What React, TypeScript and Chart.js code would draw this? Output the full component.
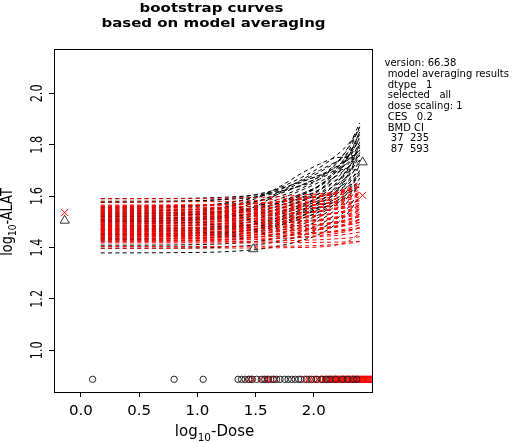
import { useEffect, useRef } from "react";
import { Chart, registerables } from "chart.js";
Chart.register(...registerables);

// ---------- data ----------
const titleLines = ["bootstrap curves", "based on model averaging"];
const infoLines = [
  "version: 66.38",
  " model averaging results",
  " dtype   1",
  " selected   all",
  " dose scaling: 1",
  " CES   0.2",
  " BMD CI",
  "  37  235",
  "  87  593",
];
const xTicks = [0, 0.5, 1.0, 1.5, 2.0];
const xTickLabels = ["0.0", "0.5", "1.0", "1.5", "2.0"];
const yTicks = [1.0, 1.2, 1.4, 1.6, 1.8, 2.0];
const yTickLabels = ["1.0", "1.2", "1.4", "1.6", "1.8", "2.0"];

// log10-dose positions at which each bootstrap curve is read
const curveDoses = [0.17, 0.8, 1.2, 1.5, 1.7, 1.9, 2.05, 2.2, 2.3, 2.395];

const blackCurves = [
  [1.590, 1.591, 1.595, 1.604, 1.618, 1.641, 1.666, 1.710, 1.756, 1.820],
  [1.580, 1.581, 1.586, 1.597, 1.615, 1.644, 1.676, 1.731, 1.789, 1.870],
  [1.560, 1.562, 1.567, 1.580, 1.599, 1.632, 1.667, 1.729, 1.794, 1.885],
  [1.550, 1.556, 1.569, 1.597, 1.631, 1.674, 1.711, 1.761, 1.804, 1.860],
  [1.545, 1.546, 1.551, 1.563, 1.580, 1.610, 1.642, 1.698, 1.757, 1.840],
  [1.540, 1.545, 1.556, 1.579, 1.608, 1.644, 1.675, 1.717, 1.753, 1.800],
  [1.535, 1.537, 1.541, 1.554, 1.573, 1.604, 1.639, 1.699, 1.762, 1.850],
  [1.530, 1.535, 1.552, 1.590, 1.635, 1.690, 1.725, 1.750, 1.752, 1.735],
  [1.525, 1.527, 1.531, 1.543, 1.562, 1.592, 1.626, 1.684, 1.745, 1.830],
  [1.520, 1.525, 1.536, 1.559, 1.588, 1.624, 1.655, 1.697, 1.733, 1.780],
  [1.515, 1.516, 1.521, 1.533, 1.550, 1.580, 1.612, 1.668, 1.727, 1.810],
  [1.510, 1.515, 1.525, 1.548, 1.575, 1.610, 1.640, 1.680, 1.715, 1.760],
  [1.505, 1.506, 1.511, 1.522, 1.539, 1.568, 1.599, 1.653, 1.710, 1.790],
  [1.500, 1.505, 1.514, 1.536, 1.562, 1.596, 1.625, 1.663, 1.697, 1.740],
  [1.495, 1.497, 1.501, 1.513, 1.532, 1.562, 1.596, 1.654, 1.715, 1.800],
  [1.490, 1.495, 1.504, 1.525, 1.550, 1.582, 1.610, 1.646, 1.679, 1.720],
  [1.485, 1.486, 1.491, 1.502, 1.519, 1.548, 1.579, 1.633, 1.690, 1.770],
  [1.480, 1.484, 1.493, 1.513, 1.537, 1.568, 1.594, 1.630, 1.660, 1.700],
  [1.475, 1.476, 1.481, 1.492, 1.509, 1.538, 1.569, 1.623, 1.680, 1.760],
  [1.470, 1.474, 1.483, 1.503, 1.527, 1.558, 1.584, 1.620, 1.650, 1.690],
  [1.465, 1.466, 1.471, 1.482, 1.498, 1.526, 1.556, 1.608, 1.663, 1.740],
  [1.460, 1.464, 1.473, 1.493, 1.517, 1.548, 1.574, 1.610, 1.640, 1.680],
  [1.455, 1.456, 1.460, 1.471, 1.487, 1.513, 1.542, 1.593, 1.646, 1.720],
  [1.450, 1.454, 1.463, 1.482, 1.505, 1.534, 1.559, 1.593, 1.622, 1.660],
  [1.445, 1.446, 1.450, 1.460, 1.476, 1.501, 1.529, 1.578, 1.629, 1.700],
  [1.440, 1.444, 1.453, 1.472, 1.495, 1.524, 1.549, 1.583, 1.612, 1.650],
  [1.435, 1.436, 1.440, 1.450, 1.466, 1.491, 1.519, 1.568, 1.619, 1.690],
  [1.430, 1.434, 1.443, 1.462, 1.485, 1.514, 1.539, 1.573, 1.602, 1.640],
  [1.425, 1.426, 1.430, 1.440, 1.454, 1.479, 1.506, 1.552, 1.601, 1.670],
  [1.409, 1.410, 1.414, 1.423, 1.438, 1.462, 1.489, 1.534, 1.583, 1.650],
  [1.397, 1.398, 1.401, 1.410, 1.424, 1.446, 1.471, 1.513, 1.558, 1.620],
  [1.379, 1.380, 1.383, 1.392, 1.406, 1.428, 1.452, 1.494, 1.538, 1.600],
  [1.575, 1.579, 1.587, 1.606, 1.628, 1.657, 1.682, 1.714, 1.743, 1.780],
  [1.555, 1.560, 1.571, 1.595, 1.624, 1.661, 1.693, 1.735, 1.772, 1.820],
  [1.530, 1.532, 1.537, 1.550, 1.571, 1.605, 1.642, 1.707, 1.775, 1.870],
  [1.510, 1.512, 1.517, 1.530, 1.551, 1.585, 1.622, 1.687, 1.755, 1.850],
  [1.500, 1.504, 1.520, 1.560, 1.610, 1.655, 1.680, 1.700, 1.705, 1.700],
  [1.470, 1.472, 1.477, 1.490, 1.510, 1.543, 1.579, 1.642, 1.708, 1.800],
  [1.450, 1.452, 1.457, 1.470, 1.490, 1.523, 1.559, 1.622, 1.688, 1.780],
  [1.520, 1.524, 1.540, 1.575, 1.615, 1.665, 1.700, 1.735, 1.755, 1.760],
];

const redCurves = [
  [1.590, 1.590, 1.592, 1.595, 1.598, 1.604, 1.609, 1.616, 1.624, 1.635],
  [1.577, 1.578, 1.579, 1.583, 1.588, 1.595, 1.602, 1.612, 1.622, 1.637],
  [1.565, 1.566, 1.568, 1.573, 1.579, 1.588, 1.597, 1.609, 1.621, 1.640],
  [1.562, 1.563, 1.566, 1.572, 1.579, 1.591, 1.602, 1.617, 1.633, 1.657],
  [1.560, 1.561, 1.564, 1.569, 1.576, 1.587, 1.598, 1.612, 1.628, 1.650],
  [1.555, 1.556, 1.557, 1.561, 1.566, 1.573, 1.580, 1.590, 1.600, 1.615],
  [1.552, 1.553, 1.555, 1.561, 1.567, 1.578, 1.588, 1.601, 1.616, 1.637],
  [1.548, 1.549, 1.550, 1.553, 1.557, 1.563, 1.569, 1.577, 1.586, 1.598],
  [1.545, 1.546, 1.548, 1.553, 1.559, 1.569, 1.579, 1.591, 1.605, 1.625],
  [1.540, 1.541, 1.543, 1.547, 1.553, 1.561, 1.569, 1.581, 1.593, 1.610],
  [1.537, 1.537, 1.539, 1.542, 1.545, 1.551, 1.556, 1.563, 1.571, 1.582],
  [1.533, 1.534, 1.536, 1.541, 1.547, 1.557, 1.567, 1.579, 1.593, 1.613],
  [1.530, 1.531, 1.532, 1.536, 1.541, 1.548, 1.555, 1.565, 1.575, 1.590],
  [1.526, 1.526, 1.528, 1.530, 1.533, 1.538, 1.543, 1.549, 1.556, 1.566],
  [1.522, 1.523, 1.525, 1.531, 1.537, 1.548, 1.558, 1.571, 1.586, 1.607],
  [1.518, 1.519, 1.520, 1.524, 1.528, 1.535, 1.541, 1.550, 1.559, 1.573],
  [1.514, 1.515, 1.517, 1.521, 1.527, 1.535, 1.543, 1.555, 1.567, 1.584],
  [1.510, 1.510, 1.512, 1.514, 1.517, 1.522, 1.527, 1.533, 1.540, 1.550],
  [1.506, 1.507, 1.509, 1.514, 1.520, 1.530, 1.540, 1.552, 1.566, 1.586],
  [1.502, 1.503, 1.504, 1.508, 1.512, 1.519, 1.525, 1.534, 1.543, 1.557],
  [1.498, 1.499, 1.501, 1.505, 1.510, 1.518, 1.525, 1.536, 1.547, 1.563],
  [1.494, 1.494, 1.495, 1.498, 1.500, 1.505, 1.509, 1.514, 1.520, 1.529],
  [1.490, 1.491, 1.493, 1.498, 1.504, 1.513, 1.522, 1.534, 1.546, 1.565],
  [1.486, 1.487, 1.488, 1.491, 1.495, 1.501, 1.507, 1.515, 1.524, 1.536],
  [1.482, 1.483, 1.485, 1.489, 1.494, 1.502, 1.509, 1.520, 1.531, 1.547],
  [1.478, 1.478, 1.479, 1.481, 1.483, 1.487, 1.491, 1.495, 1.501, 1.508],
  [1.474, 1.475, 1.477, 1.481, 1.487, 1.495, 1.503, 1.515, 1.527, 1.544],
  [1.470, 1.471, 1.472, 1.475, 1.479, 1.485, 1.491, 1.499, 1.508, 1.520],
  [1.466, 1.467, 1.468, 1.472, 1.477, 1.484, 1.491, 1.501, 1.511, 1.526],
  [1.462, 1.462, 1.463, 1.466, 1.468, 1.473, 1.477, 1.482, 1.488, 1.497],
  [1.458, 1.459, 1.461, 1.465, 1.470, 1.478, 1.485, 1.496, 1.507, 1.523],
  [1.454, 1.454, 1.456, 1.459, 1.462, 1.468, 1.473, 1.480, 1.488, 1.499],
  [1.450, 1.451, 1.452, 1.456, 1.461, 1.468, 1.475, 1.485, 1.495, 1.510],
  [1.446, 1.446, 1.447, 1.449, 1.451, 1.455, 1.459, 1.463, 1.469, 1.476],
  [1.442, 1.443, 1.445, 1.449, 1.454, 1.462, 1.469, 1.480, 1.491, 1.507],
  [1.438, 1.438, 1.440, 1.442, 1.445, 1.450, 1.455, 1.461, 1.468, 1.478],
  [1.434, 1.435, 1.436, 1.440, 1.444, 1.451, 1.457, 1.466, 1.475, 1.489],
  [1.430, 1.430, 1.431, 1.433, 1.435, 1.439, 1.443, 1.447, 1.453, 1.460],
  [1.426, 1.427, 1.428, 1.431, 1.435, 1.441, 1.447, 1.455, 1.464, 1.476],
  [1.422, 1.422, 1.423, 1.424, 1.426, 1.428, 1.430, 1.434, 1.437, 1.442],
  [1.418, 1.418, 1.418, 1.418, 1.419, 1.419, 1.420, 1.421, 1.422, 1.423],
  [1.404, 1.404, 1.404, 1.405, 1.405, 1.406, 1.408, 1.412, 1.416, 1.424],
  [1.397, 1.397, 1.398, 1.398, 1.399, 1.400, 1.402, 1.410, 1.425, 1.456],
];

// bootstrap BMD values shown as a row of circles
const bmdRowLevel = 0.887;
const blackBmd = [
  0.10, 0.80, 1.05, 1.35, 1.38, 1.41, 1.44, 1.47, 1.51, 1.55, 1.58, 1.61, 1.65,
  1.68, 1.71, 1.75, 1.78, 1.81, 1.84, 1.87, 1.89, 1.94, 1.98, 2.02, 2.07, 2.11,
  2.14, 2.19, 2.25, 2.29, 2.34, 2.37,
];
const redBmd = [
  1.45, 1.47, 1.57, 1.60, 1.63, 1.66, 1.92, 1.96, 2.00, 2.03, 2.06, 2.08, 2.10,
  2.12, 2.13, 2.15, 2.16, 2.17, 2.18, 2.19, 2.20, 2.21, 2.22, 2.23, 2.24, 2.25,
  2.26, 2.27, 2.28, 2.29, 2.30, 2.31, 2.32, 2.33, 2.34, 2.35, 2.36, 2.37, 2.38,
  2.39, 2.40, 2.41, 2.42, 2.43, 2.44, 2.45, 2.46, 2.47, 2.48, 2.49, 2.50, 2.51,
  2.52, 2.53,
];

// observed group means (triangles) and model-averaged points (crosses)
const triangleDoses = [-0.14, 1.48, 2.42];
const triangleMeans = [1.505, 1.394, 1.732];
const crossDoses = [-0.14, 2.42];
const crossMeans = [1.536, 1.603];

// ---------- helpers ----------
const FONT = "'DejaVu Sans', sans-serif";

function drawText(ctx: any, s: string, x: number, y: number, font: string, align: string, ky = 1, rotate = false) {
  ctx.save();
  ctx.translate(x, y);
  ctx.scale(1, ky);
  if (rotate) ctx.rotate(-Math.PI / 2);
  ctx.font = font;
  ctx.textAlign = align;
  ctx.textBaseline = "alphabetic";
  ctx.fillStyle = "#000";
  ctx.fillText(s, 0, 0);
  ctx.restore();
}

function drawSubLabel(ctx: any, pre: string, sub: string, post: string, x: number, y: number, size: number, subSize: number, ky: number, rotate: boolean) {
  ctx.save();
  ctx.translate(x, y);
  ctx.scale(1, ky);
  if (rotate) ctx.rotate(-Math.PI / 2);
  ctx.fillStyle = "#000";
  ctx.textAlign = "left";
  ctx.textBaseline = "alphabetic";
  const big = `${size}px ${FONT}`;
  const small = `${subSize}px ${FONT}`;
  ctx.font = big;
  const w1 = ctx.measureText(pre).width;
  const w3 = ctx.measureText(post).width;
  ctx.font = small;
  const w2 = ctx.measureText(sub).width;
  const sx = -(w1 + w2 + w3) / 2;
  ctx.font = big;
  ctx.fillText(pre, sx, 0);
  ctx.font = small;
  ctx.fillText(sub, sx + w1, size * 0.3);
  ctx.font = big;
  ctx.fillText(post, sx + w1 + w2, 0);
  ctx.restore();
}

const decorPlugin = {
  id: "rdecor",
  afterDraw(chart: any) {
    const ctx = chart.ctx;
    const { left, top, right, bottom } = chart.chartArea;
    const xs = chart.scales.x;
    const ys = chart.scales.y;
    ctx.save();
    ctx.strokeStyle = "#000";
    ctx.lineWidth = 1;
    ctx.setLineDash([]);
    ctx.strokeRect(left - 0.5, top - 0.5, right - left + 1, bottom - top + 1);
    ctx.restore();

    const cx = (left + right) / 2;
    drawText(ctx, titleLines[0], cx - 2, 12, `bold 15px ${FONT}`, "center", 0.82);
    drawText(ctx, titleLines[1], cx, 27, `bold 15px ${FONT}`, "center", 0.82);

    xTicks.forEach((v, i) => {
      drawText(ctx, xTickLabels[i], xs.getPixelForValue(v), 415, `15px ${FONT}`, "center", 0.92);
    });
    yTicks.forEach((v, i) => {
      drawText(ctx, yTickLabels[i], 41.5, ys.getPixelForValue(v), `15px ${FONT}`, "center", 0.75, true);
    });

    drawSubLabel(ctx, "log", "10", "-Dose", cx + 1, 436, 15, 10.5, 1, false);
    drawSubLabel(ctx, "log", "10", "-ALAT", 11.5, 222, 15, 10.5, 0.86, true);

    infoLines.forEach((s, i) => {
      drawText(ctx, s, 384.5, 66 + i * 10.75, `10px ${FONT}`, "left", 1);
    });
  },
};

function curveSet(list: number[][], color: string, order: number) {
  return list.map((ys) => ({
    data: curveDoses.map((x, i) => ({ x, y: ys[i] })),
    showLine: true,
    borderColor: color,
    borderWidth: 1,
    borderDash: [4, 3.3],
    pointRadius: 0,
    pointHoverRadius: 0,
    fill: false,
    cubicInterpolationMode: "monotone",
    order,
  }));
}

export default function App() {
  const ref = useRef<HTMLCanvasElement>(null);
  useEffect(() => {
    const datasets: any[] = [
      {
        data: triangleDoses.map((x, i) => ({ x, y: triangleMeans[i] })),
        pointStyle: "triangle",
        pointRadius: 5.3,
        borderColor: "#333",
        backgroundColor: "rgba(0,0,0,0)",
        borderWidth: 1,
        order: 0,
      },
      {
        data: crossDoses.map((x, i) => ({ x, y: crossMeans[i] })),
        pointStyle: "crossRot",
        pointRadius: 5,
        borderColor: "#ff0000",
        borderWidth: 1,
        order: 0,
      },
      {
        data: blackBmd.map((x) => ({ x, y: bmdRowLevel })),
        pointStyle: "circle",
        pointRadius: 3.2,
        borderColor: "#222",
        backgroundColor: "rgba(0,0,0,0)",
        borderWidth: 1,
        order: 1,
      },
      {
        data: redBmd.map((x) => ({ x, y: bmdRowLevel })),
        pointStyle: "circle",
        pointRadius: 3.2,
        borderColor: "#ff0000",
        backgroundColor: "rgba(0,0,0,0)",
        borderWidth: 1,
        order: 2,
      },
      ...curveSet(redCurves, "#ff0000", 3),
      ...curveSet(blackCurves, "#000000", 4),
    ];
    const chart = new Chart(ref.current as HTMLCanvasElement, {
      type: "scatter",
      data: { datasets },
      options: {
        animation: false,
        responsive: false,
        devicePixelRatio: 1,
        events: [],
        layout: { padding: { left: 0, top: 50, right: 146, bottom: 0 } },
        plugins: { legend: { display: false }, tooltip: { enabled: false }, title: { display: false } },
        scales: {
          x: {
            type: "linear",
            min: -0.2232,
            max: 2.5004,
            afterBuildTicks: (s: any) => {
              s.ticks = xTicks.map((v) => ({ value: v }));
            },
            afterFit: (s: any) => {
              s.height = 51;
            },
            ticks: { display: false },
            grid: { display: true, drawOnChartArea: false, drawTicks: true, tickLength: 5, color: "#000", lineWidth: 1 },
            border: { display: false },
          },
          y: {
            type: "linear",
            min: 0.8376,
            max: 2.1687,
            afterBuildTicks: (s: any) => {
              s.ticks = yTicks.map((v) => ({ value: v }));
            },
            afterFit: (s: any) => {
              s.width = 55;
            },
            ticks: { display: false },
            grid: { display: true, drawOnChartArea: false, drawTicks: true, tickLength: 6, color: "#000", lineWidth: 1 },
            border: { display: false },
          },
        },
      } as any,
      plugins: [decorPlugin],
    });
    return () => chart.destroy();
  }, []);
  return (
    <div style={{ position: "absolute", left: 0, top: 0, width: 518, height: 443, background: "#fff" }}>
      <canvas ref={ref} width={518} height={443} style={{ display: "block" }} />
    </div>
  );
}
